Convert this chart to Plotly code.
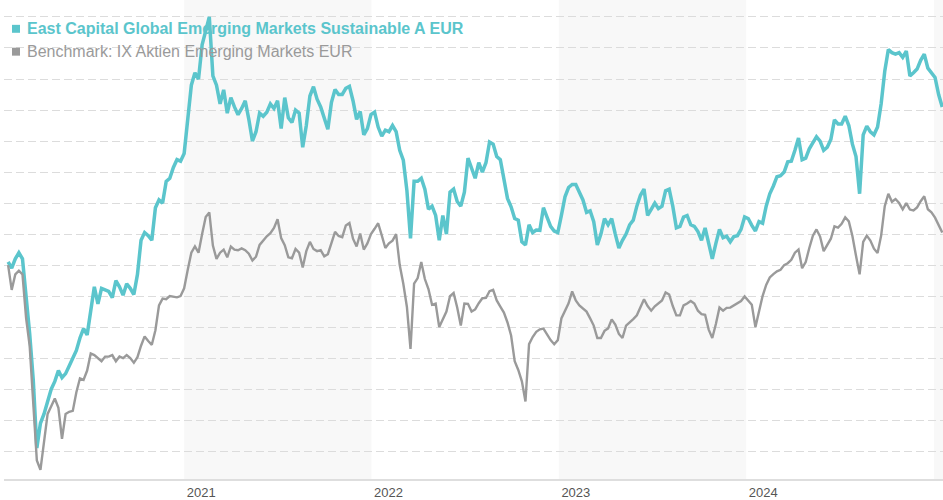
import pandas as pd
import plotly.graph_objects as go

fund_name = "East Capital Global Emerging Markets Sustainable A EUR"
bench_name = "Benchmark: IX Aktien Emerging Markets EUR"

# weekly observation dates
dates = pd.date_range("2020-01-24", periods=261, freq="7D")

fund = [
    101, 99, 102, 104, 102, 90, 78, 63, 41, 49,
    52, 56, 60, 62.5, 66, 63.7, 65, 67.5, 70, 72.5,
    76.5, 79.5, 77.5, 86, 93, 87.5, 92.5, 92, 91.5, 89.5,
    95, 93, 90.3, 94, 92.5, 90.5, 97, 108, 110.5, 109.5,
    108, 118.5, 121, 120, 127, 128, 131.5, 134, 133.5, 136,
    146, 158, 162, 160, 171, 175, 180, 161, 158, 152,
    156.5, 149, 154, 151, 148.5, 150.5, 153, 147, 140, 143,
    149, 148, 149.3, 152, 150.5, 153, 144, 154, 147.5, 146,
    150, 149, 138, 145, 154.5, 157.5, 153.5, 151, 147, 143.8,
    152.5, 156.6, 155, 155, 157, 157.6, 153, 147, 149.5, 142,
    144, 148.5, 149.3, 144.5, 141.6, 143.5, 143, 145, 143, 137,
    133.8, 124, 108.6, 127, 127, 128, 124.5, 118, 119, 116,
    108, 116, 110, 123.5, 124.5, 120.5, 119, 123.5, 134.5, 131.5,
    128, 133, 130, 133, 139.7, 139, 135, 134, 128, 121.5,
    118.8, 115, 114.5, 107.5, 106.5, 113, 110.5, 111.3, 111.2, 118.5,
    115.5, 112.5, 111, 110.5, 116, 122, 125, 126, 126, 123.5,
    121, 117, 117.5, 114, 106.5, 110, 115, 113, 115, 110,
    105.5, 108, 110, 113, 114.5, 119, 122.5, 124.5, 116, 118,
    120, 118.2, 119, 124, 124.5, 119, 112, 112.5, 115.5, 116,
    113, 112.5, 110.8, 108, 112, 107, 102, 107, 111.5, 108.8,
    109.3, 107.5, 109.2, 109.5, 111.5, 115.5, 115, 112.8, 111, 114,
    113.5, 119, 123, 125.5, 128.5, 128.8, 130, 133.3, 133.5, 137,
    141, 134, 134.5, 137.5, 139.5, 141.4, 140, 137, 138, 140.5,
    146.8, 145.5, 145.5, 148, 145, 139, 135, 123, 142, 144.8,
    143, 142, 144.5, 152, 162.5, 169.5, 168.5, 168, 168.5, 167,
    169, 161, 162, 163.2, 166, 168, 163.5, 161.8, 160.5, 155, 151,
]

benchmark = [
    100, 92, 97, 98.2, 97, 83, 74, 57, 37, 34,
    44, 52, 54.5, 57, 54, 44, 52, 52.7, 53, 59,
    63.5, 63, 66, 71.5, 71, 70, 69, 70.5, 70.5, 71,
    69, 70.5, 70, 71, 70, 68.5, 70.3, 74, 77, 75.5,
    74.3, 79, 87, 89.2, 89, 90, 89.7, 89.6, 90, 92.5,
    98.5, 104, 106, 104, 110, 115.5, 117, 106.3, 102, 104,
    105, 102.5, 106, 105, 104.8, 105.4, 104.8, 103.7, 101.5, 102.7,
    106.5, 108, 109.3, 110.3, 112, 114.8, 108.7, 106.4, 102.5, 102.2,
    105.2, 104, 99.2, 104.5, 107.5, 105.2, 104.5, 104.8, 102.8, 103.5,
    107, 110.7, 109.4, 109, 112.8, 113.6, 108.5, 106, 110.2, 105,
    107, 110, 111.7, 113.5, 109.6, 105.5, 107, 107.9, 110, 100,
    94, 86.5, 73, 94, 95.8, 101, 95.5, 92.3, 87.2, 87.6,
    80, 82.8, 85, 90, 91, 86.3, 80.5, 87.6, 87.5, 85,
    85.7, 87.7, 89.3, 89.4, 91.6, 92, 88.6, 86.6, 84.7, 81.5,
    77.3, 69, 66.2, 62.5, 56, 74.5, 76.8, 78.5, 79.3, 79.5,
    77.7, 75.8, 74.5, 75.8, 82.8, 85.3, 87.7, 91.5, 88.6, 87,
    86, 85, 82.8, 80.5, 76.5, 76.5, 78.8, 79.6, 82.5, 80.8,
    77.8, 76.5, 80.5, 81.4, 82.6, 83.8, 86.3, 89, 86.8, 85.3,
    86.7, 87.6, 88.6, 91.2, 90.5, 86.8, 83.8, 83.8, 87, 87.6,
    88.4, 87.6, 85.3, 84.2, 84, 79.2, 76.5, 81, 86.3, 85.3,
    86.2, 86.3, 87, 87.6, 88.4, 89.9, 88.4, 87.2, 80, 85,
    90, 93.6, 96, 97.1, 98, 98.5, 100, 100.6, 101.7, 104,
    105, 99, 101, 105.5, 109.5, 111.5, 109.2, 104.5, 106.6, 108.5,
    112.5, 112.1, 113.3, 115.4, 114.1, 109.4, 103, 97, 107.5, 109.5,
    107.9, 105.3, 103.9, 109.5, 119, 123, 120.4, 121.3, 120, 118,
    120, 117.9, 117.6, 118.6, 120.6, 122.2, 118, 117, 115.3, 112.8, 110.5,
]

year_ticks = ["2021-01-01", "2022-01-01", "2023-01-01", "2024-01-01"]
year_labels = ["2021", "2022", "2023", "2024"]
shaded_years = [("2021-01-01", "2022-01-01"), ("2023-01-01", "2024-01-01"), ("2025-01-01", "2026-01-01")]

assert len(fund) == len(dates) == len(benchmark)

TEAL = "#5bc5cc"
GREY = "#9a9a9a"

fig = go.Figure()
fig.add_trace(go.Scatter(x=dates, y=fund, mode="lines", name=fund_name,
                         line=dict(color=TEAL, width=3.5), showlegend=False))
fig.add_trace(go.Scatter(x=dates, y=benchmark, mode="lines", name=bench_name,
                         line=dict(color=GREY, width=2.4), showlegend=False))

for a, b in shaded_years:
    fig.add_shape(type="rect", xref="x", yref="paper", x0=a, x1=b, y0=0, y1=1,
                  fillcolor="#f8f8f8", line_width=0, layer="below")

# legend (squares + coloured text)
PW, PH, L, T = 939.0, 482.0, 4.0, 0.0
def px_x(v):
    return (v - L) / PW
def px_y(v):
    return 1 - (v - T) / PH

for (yc, col, txt, bold) in [(29, TEAL, fund_name, True), (52, GREY, bench_name, False)]:
    fig.add_shape(type="rect", xref="paper", yref="paper",
                  x0=px_x(12), x1=px_x(20), y0=px_y(yc - 4), y1=px_y(yc + 4),
                  fillcolor=col, line_width=0)
    fig.add_annotation(xref="paper", yref="paper", x=px_x(25), y=px_y(yc),
                       xanchor="left", yanchor="middle", showarrow=False,
                       text=f"<b>{txt}</b>" if bold else txt,
                       font=dict(size=16, color=col, family="Liberation Sans, Arial"))

fig.update_layout(
    width=943, height=500,
    margin=dict(l=4, r=0, t=0, b=18),
    paper_bgcolor="white", plot_bgcolor="white",
    font=dict(family="Liberation Sans, Arial", size=13, color="#555"),
    showlegend=False,
    hovermode=False,
)
fig.update_xaxes(
    range=["2020-01-16", "2025-01-18 12:00"],
    tickvals=year_ticks, ticktext=year_labels,
    ticklabelshift=17, ticklabelstandoff=0, ticks="", showgrid=False, zeroline=False,
    showline=True, linecolor="#dedede", linewidth=2,
    tickfont=dict(size=13, color="#555"),
)
fig.update_yaxes(
    range=[31.03, 185.47], tick0=0, dtick=10,
    showticklabels=False, ticks="", zeroline=False,
    showgrid=True, gridcolor="#dcdcdc", gridwidth=1, griddash="8px,4px",
)

fig.write_html(
    "out.html",
    config={"displayModeBar": False},
    post_script="document.body.style.margin='0';document.body.style.overflow='hidden';",
)
